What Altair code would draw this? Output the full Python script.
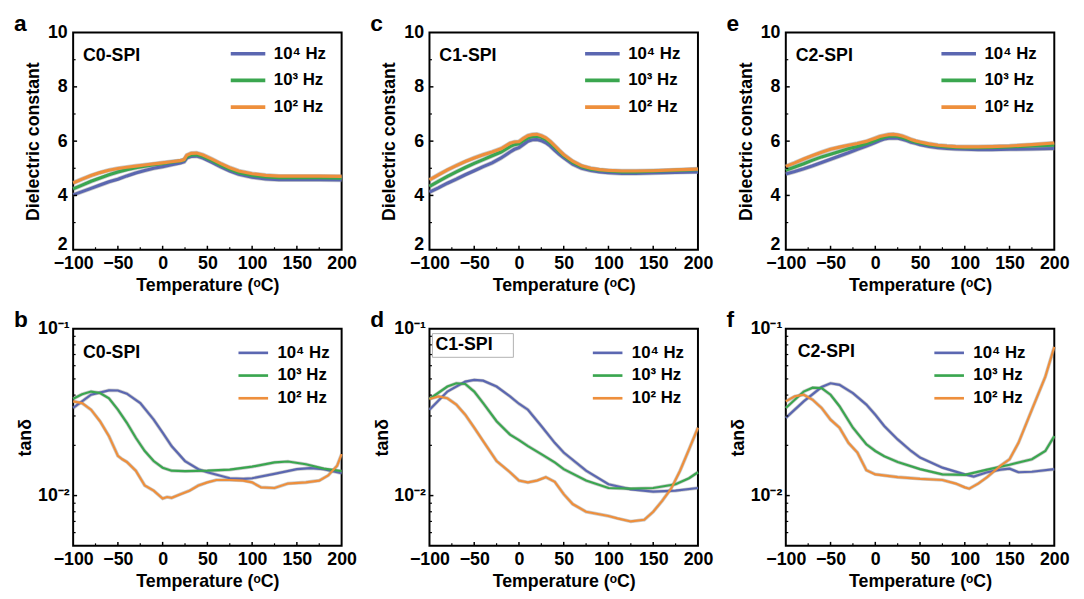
import altair as alt
import pandas as pd

FONT = "Liberation Sans"
FREQS = ["10⁴ Hz", "10³ Hz", "10² Hz"]
COLORS = ["#5b67b1", "#3aa64f", "#ee8f3c"]

X_TICKS = [-100, -50, 0, 50, 100, 150, 200]
X_MINOR = [-75, -25, 25, 75, 125, 175]
EPS_TICKS = [2, 4, 6, 8, 10]
EPS_MINOR = [3, 5, 7, 9]
TAN_TICKS = [0.01, 0.1]
TAN_MINOR = [0.006, 0.007, 0.008, 0.009, 0.02, 0.03, 0.04, 0.05, 0.06, 0.07, 0.08, 0.09]

# ---------------- panel a : C0-SPI dielectric constant ----------------
a_T = [-100, -90, -80, -70, -60, -50, -40, -30, -20, -10, 0, 10, 20, 24, 27, 32, 38, 45, 55, 65, 75, 85, 100, 115, 130, 150, 175, 200]
a_f4 = [4.02, 4.14, 4.26, 4.38, 4.50, 4.60, 4.72, 4.83, 4.92, 5.00, 5.06, 5.13, 5.20, 5.24, 5.38, 5.44, 5.45, 5.38, 5.22, 5.05, 4.90, 4.78, 4.67, 4.61, 4.58, 4.58, 4.58, 4.57]
a_f3 = [4.24, 4.38, 4.52, 4.64, 4.76, 4.86, 4.95, 5.02, 5.08, 5.13, 5.17, 5.22, 5.27, 5.30, 5.42, 5.49, 5.50, 5.43, 5.28, 5.11, 4.96, 4.84, 4.74, 4.68, 4.65, 4.65, 4.65, 4.64]
a_f2 = [4.46, 4.60, 4.73, 4.84, 4.93, 4.99, 5.04, 5.08, 5.12, 5.16, 5.20, 5.24, 5.28, 5.32, 5.48, 5.55, 5.56, 5.49, 5.34, 5.17, 5.02, 4.90, 4.80, 4.74, 4.71, 4.71, 4.71, 4.70]

# ---------------- panels c, e : C1-SPI, C2-SPI dielectric constant ----------------
ce_T = [-100, -90, -80, -70, -60, -50, -40, -30, -20, -10, -5, 0, 5, 10, 15, 20, 25, 30, 35, 40, 45, 50, 60, 70, 80, 90, 100, 115, 130, 150, 175, 200]
c_f4 = [4.12, 4.28, 4.45, 4.60, 4.76, 4.91, 5.06, 5.20, 5.38, 5.60, 5.70, 5.76, 5.88, 6.00, 6.05, 6.06, 6.02, 5.94, 5.82, 5.66, 5.52, 5.39, 5.15, 5.00, 4.92, 4.87, 4.84, 4.81, 4.81, 4.83, 4.85, 4.87]
c_f3 = [4.33, 4.52, 4.70, 4.87, 5.03, 5.18, 5.32, 5.46, 5.60, 5.80, 5.87, 5.90, 6.02, 6.12, 6.17, 6.18, 6.14, 6.06, 5.93, 5.77, 5.61, 5.46, 5.22, 5.06, 4.97, 4.93, 4.90, 4.87, 4.87, 4.89, 4.92, 4.95]
c_f2 = [4.57, 4.76, 4.94, 5.10, 5.25, 5.38, 5.50, 5.60, 5.72, 5.92, 5.97, 5.98, 6.10, 6.20, 6.24, 6.25, 6.20, 6.12, 5.99, 5.83, 5.66, 5.50, 5.26, 5.09, 5.00, 4.95, 4.92, 4.90, 4.90, 4.91, 4.94, 4.97]
e_f4 = [4.79, 4.88, 4.98, 5.09, 5.21, 5.33, 5.45, 5.57, 5.70, 5.82, 5.88, 5.95, 6.02, 6.08, 6.11, 6.12, 6.11, 6.07, 6.02, 5.96, 5.92, 5.87, 5.80, 5.76, 5.73, 5.71, 5.70, 5.69, 5.69, 5.70, 5.71, 5.73]
e_f3 = [4.93, 5.05, 5.17, 5.30, 5.42, 5.52, 5.62, 5.72, 5.80, 5.90, 5.96, 6.02, 6.09, 6.14, 6.18, 6.19, 6.17, 6.13, 6.07, 6.01, 5.96, 5.93, 5.86, 5.82, 5.79, 5.77, 5.76, 5.76, 5.77, 5.79, 5.82, 5.85]
e_f2 = [5.07, 5.20, 5.34, 5.47, 5.59, 5.70, 5.78, 5.85, 5.91, 5.99, 6.05, 6.11, 6.17, 6.21, 6.24, 6.25, 6.23, 6.19, 6.13, 6.06, 6.01, 5.97, 5.90, 5.85, 5.82, 5.80, 5.79, 5.79, 5.80, 5.82, 5.87, 5.93]

# ---------------- panel b : C0-SPI tan delta ----------------
b_T4 = [-100, -80, -60, -50, -40, -25, -10, 0, 10, 25, 40, 50, 75, 90, 100, 125, 150, 165, 180, 200]
b_f4 = [0.0335, 0.0402, 0.0427, 0.0426, 0.0408, 0.0358, 0.0285, 0.0238, 0.0198, 0.0161, 0.0144, 0.0138, 0.0127, 0.0126, 0.0127, 0.0135, 0.0144, 0.0146, 0.0144, 0.0136]
b_T3 = [-100, -90, -80, -70, -60, -50, -40, -30, -20, -10, 0, 10, 25, 50, 75, 100, 125, 140, 160, 180, 200]
b_f3 = [0.0380, 0.0405, 0.0420, 0.0412, 0.0383, 0.0327, 0.0273, 0.0222, 0.0185, 0.0161, 0.0147, 0.0141, 0.0140, 0.0141, 0.0143, 0.0149, 0.0158, 0.0160, 0.0154, 0.0145, 0.0140]
b_T2 = [-100, -90, -80, -70, -60, -50, -45, -40, -30, -20, -10, 0, 5, 10, 20, 30, 40, 50, 60, 75, 90, 100, 110, 125, 140, 160, 175, 185, 195, 200]
b_f2 = [0.0367, 0.0358, 0.0327, 0.0279, 0.0227, 0.0173, 0.0165, 0.0159, 0.0141, 0.0115, 0.0107, 0.0096, 0.0098, 0.0097, 0.0102, 0.0107, 0.0115, 0.0120, 0.0124, 0.0124, 0.0123, 0.0120, 0.0112, 0.0111, 0.0118, 0.0120, 0.0123, 0.0132, 0.0151, 0.0177]

# ---------------- panel d : C1-SPI tan delta ----------------
d_T4 = [-100, -80, -60, -50, -40, -25, -10, 0, 10, 25, 40, 50, 75, 100, 125, 150, 175, 200]
d_f4 = [0.0327, 0.0420, 0.0482, 0.0493, 0.0488, 0.0450, 0.0393, 0.0355, 0.0327, 0.0261, 0.0207, 0.0181, 0.0141, 0.0117, 0.0109, 0.01056, 0.0107, 0.0111]
d_T3 = [-100, -80, -70, -60, -50, -40, -25, -10, 0, 10, 25, 40, 50, 75, 100, 125, 150, 175, 190, 200]
d_f3 = [0.0379, 0.0450, 0.0471, 0.0466, 0.0420, 0.0358, 0.0279, 0.0232, 0.0215, 0.0198, 0.0177, 0.0158, 0.0144, 0.0123, 0.0111, 0.0110, 0.0111, 0.0117, 0.0127, 0.0138]
d_T2 = [-100, -90, -80, -70, -60, -50, -40, -25, -10, 0, 10, 20, 30, 40, 50, 60, 75, 100, 110, 125, 140, 150, 160, 170, 180, 190, 200]
d_f2 = [0.0379, 0.0393, 0.0383, 0.0351, 0.0305, 0.0255, 0.0212, 0.0161, 0.0138, 0.0123, 0.0120, 0.0123, 0.0129, 0.0121, 0.0102, 0.0089, 0.0080, 0.00754, 0.0073, 0.0070, 0.00716, 0.0080, 0.0093, 0.0110, 0.0141, 0.0189, 0.0255]

# ---------------- panel f : C2-SPI tan delta ----------------
f_T4 = [-100, -80, -60, -50, -40, -25, -10, 0, 10, 25, 40, 50, 75, 100, 110, 125, 140, 150, 160, 175, 200]
f_f4 = [0.0292, 0.0367, 0.0447, 0.0471, 0.0461, 0.0411, 0.0351, 0.0305, 0.0261, 0.0217, 0.0185, 0.0169, 0.0147, 0.0134, 0.0130, 0.0138, 0.0143, 0.0145, 0.0138, 0.0139, 0.0144]
f_T3 = [-100, -80, -70, -60, -50, -40, -25, -10, 0, 10, 25, 50, 75, 100, 125, 150, 175, 190, 200]
f_f3 = [0.0335, 0.0420, 0.0443, 0.0440, 0.0402, 0.0343, 0.0255, 0.0203, 0.0185, 0.0172, 0.0159, 0.0144, 0.0134, 0.0133, 0.0143, 0.0153, 0.0165, 0.0185, 0.0227]
f_T2 = [-100, -90, -80, -70, -60, -50, -40, -30, -20, -10, 0, 25, 50, 75, 90, 100, 105, 115, 125, 140, 150, 160, 175, 190, 200]
f_f2 = [0.0367, 0.0393, 0.0402, 0.0375, 0.0335, 0.0285, 0.0255, 0.0207, 0.0181, 0.0142, 0.0134, 0.0129, 0.0126, 0.0124, 0.0118, 0.0112, 0.0110, 0.0118, 0.0129, 0.0151, 0.0165, 0.0207, 0.0327, 0.0516, 0.0778]

W, H = 272, 220


def to_df(series):
    rows = []
    for freq, ts, vs in series:
        for t, v in zip(ts, vs):
            rows.append({"T": t, "v": v, "f": freq})
    return pd.DataFrame(rows)


def panel(series, letter, sample, kind, leg_x, leg_y, row_pad, sym_len, sw,
          sample_x, sample_y, boxed=False):
    df = to_df(series)
    xenc = alt.X("T:Q",
                 scale=alt.Scale(domain=[-100, 200], nice=False, zero=False),
                 axis=alt.Axis(title="Temperature (ᵒC)", values=X_TICKS,
                               labelFlush=False, labelOverlap=False,
                               ticks=False, domain=False, grid=False,
                               labelPadding=5, titlePadding=4))
    if kind == "eps":
        yenc = alt.Y("v:Q",
                     scale=alt.Scale(domain=[2, 10], nice=False, zero=False),
                     axis=alt.Axis(title="Dielectric constant", values=EPS_TICKS,
                                   ticks=False, domain=False, grid=False,
                                   labelOverlap=False, labelFlush=False,
                                   labelBaseline={"condition": {"test": "datum.value == 2",
                                                                "value": "alphabetic"},
                                                  "value": "middle"},
                                   labelPadding=6, titlePadding=5))
        ymaj = EPS_TICKS[1:-1]
        ymin = EPS_MINOR
    else:
        yenc = alt.Y("v:Q",
                     scale=alt.Scale(type="log", domain=[0.005, 0.1], nice=False),
                     axis=alt.Axis(title="tanδ", values=TAN_TICKS,
                                   labelExpr="datum.value > 0.05 ? '10⁻¹' : '10⁻²'",
                                   ticks=False, domain=False, grid=False,
                                   labelOverlap=False, labelFlush=False,
                                   labelPadding=4, titlePadding=3))
        ymaj = [0.01]
        ymin = TAN_MINOR

    unit = sym_len / 6.0
    halo = alt.Chart(df).mark_line(color="#8c8c8c", strokeWidth=sw + 1.4, opacity=0.45).encode(
        x=xenc, y=yenc, detail="f:N")
    lines = alt.Chart(df).mark_line(strokeWidth=sw).encode(
        x=xenc, y=yenc,
        color=alt.Color("f:N", scale=alt.Scale(domain=FREQS, range=COLORS),
                        legend=alt.Legend(title=None, orient="none", legendX=leg_x, legendY=leg_y,
                                          symbolType="M-1,0H5", symbolSize=(2 * unit) ** 2,
                                          symbolStrokeWidth=sw + 0.5, symbolOpacity=1,
                                          labelFont=FONT, labelFontSize=17, labelFontWeight="bold",
                                          labelColor="black", labelOffset=sym_len + 6 - 2 * unit,
                                          rowPadding=row_pad, padding=0)))

    xt_maj = alt.Chart(pd.DataFrame({"T": X_TICKS[1:-1]})).mark_rule(color="black", strokeWidth=1.5).encode(
        x=xenc, y=alt.value(H), y2=alt.value(H - 4))
    xt_min = alt.Chart(pd.DataFrame({"T": X_MINOR})).mark_rule(color="black", strokeWidth=1.2).encode(
        x=xenc, y=alt.value(H), y2=alt.value(H - 2.5))
    yt_maj = alt.Chart(pd.DataFrame({"v": ymaj})).mark_rule(color="black", strokeWidth=1.5).encode(
        y=yenc, x=alt.value(0), x2=alt.value(4))
    yt_min = alt.Chart(pd.DataFrame({"v": ymin})).mark_rule(color="black", strokeWidth=1.2).encode(
        y=yenc, x=alt.value(0), x2=alt.value(2.5))

    letter_t = alt.Chart(pd.DataFrame({"s": [letter]})).mark_text(
        font=FONT, fontSize=23, fontWeight="bold", align="left", baseline="alphabetic",
        color="black").encode(text="s:N", x=alt.value(-60), y=alt.value(-2))
    layers = [halo, lines, xt_maj, xt_min, yt_maj, yt_min, letter_t]
    if boxed:
        box = alt.Chart(pd.DataFrame({"s": [sample]})).mark_rect(
            fill="white", stroke="#b0b0b0", strokeWidth=1).encode(
            x=alt.value(3), x2=alt.value(85), y=alt.value(5), y2=alt.value(29))
        layers.append(box)
    sample_t = alt.Chart(pd.DataFrame({"s": [sample]})).mark_text(
        font=FONT, fontSize=18, fontWeight="bold", align="left", baseline="middle",
        color="black").encode(text="s:N", x=alt.value(sample_x), y=alt.value(sample_y))
    layers.append(sample_t)
    return alt.layer(*layers).properties(width=W, height=H)


pa = panel([(FREQS[0], a_T, a_f4), (FREQS[1], a_T, a_f3), (FREQS[2], a_T, a_f2)],
           "a", "C0-SPI", "eps", 157, 13, 9, 35, 3.2, 10, 24)
pc = panel([(FREQS[0], ce_T, c_f4), (FREQS[1], ce_T, c_f3), (FREQS[2], ce_T, c_f2)],
           "c", "C1-SPI", "eps", 155, 13, 9, 35, 3.2, 10, 24)
pe = panel([(FREQS[0], ce_T, e_f4), (FREQS[1], ce_T, e_f3), (FREQS[2], ce_T, e_f2)],
           "e", "C2-SPI", "eps", 155, 13, 9, 35, 3.2, 10, 24)
pb = panel([(FREQS[0], b_T4, b_f4), (FREQS[1], b_T3, b_f3), (FREQS[2], b_T2, b_f2)],
           "b", "C0-SPI", "tan", 164, 16, 5, 30, 2.2, 10, 25)
pd_ = panel([(FREQS[0], d_T4, d_f4), (FREQS[1], d_T3, d_f3), (FREQS[2], d_T2, d_f2)],
            "d", "C1-SPI", "tan", 162, 16, 5, 30, 2.2, 6, 17, boxed=True)
pf = panel([(FREQS[0], f_T4, f_f4), (FREQS[1], f_T3, f_f3), (FREQS[2], f_T2, f_f2)],
           "f", "C2-SPI", "tan", 147, 16, 5, 30, 2.2, 12, 24)

chart = alt.concat(pa, pc, pe, pb, pd_, pf, columns=3,
                   spacing={"row": 13, "column": 11}).resolve_scale(
    color="independent").configure_view(
    stroke="black", strokeWidth=2).configure_axis(
    labelFont=FONT, labelFontSize=18, labelFontWeight="bold", labelColor="black",
    titleFont=FONT, titleFontSize=18, titleFontWeight="bold", titleColor="black").properties(
    padding={"left": 5, "top": 0, "right": 5, "bottom": 5}, background="white")

chart.save("out.html", embed_options={"renderer": "svg", "actions": False})
